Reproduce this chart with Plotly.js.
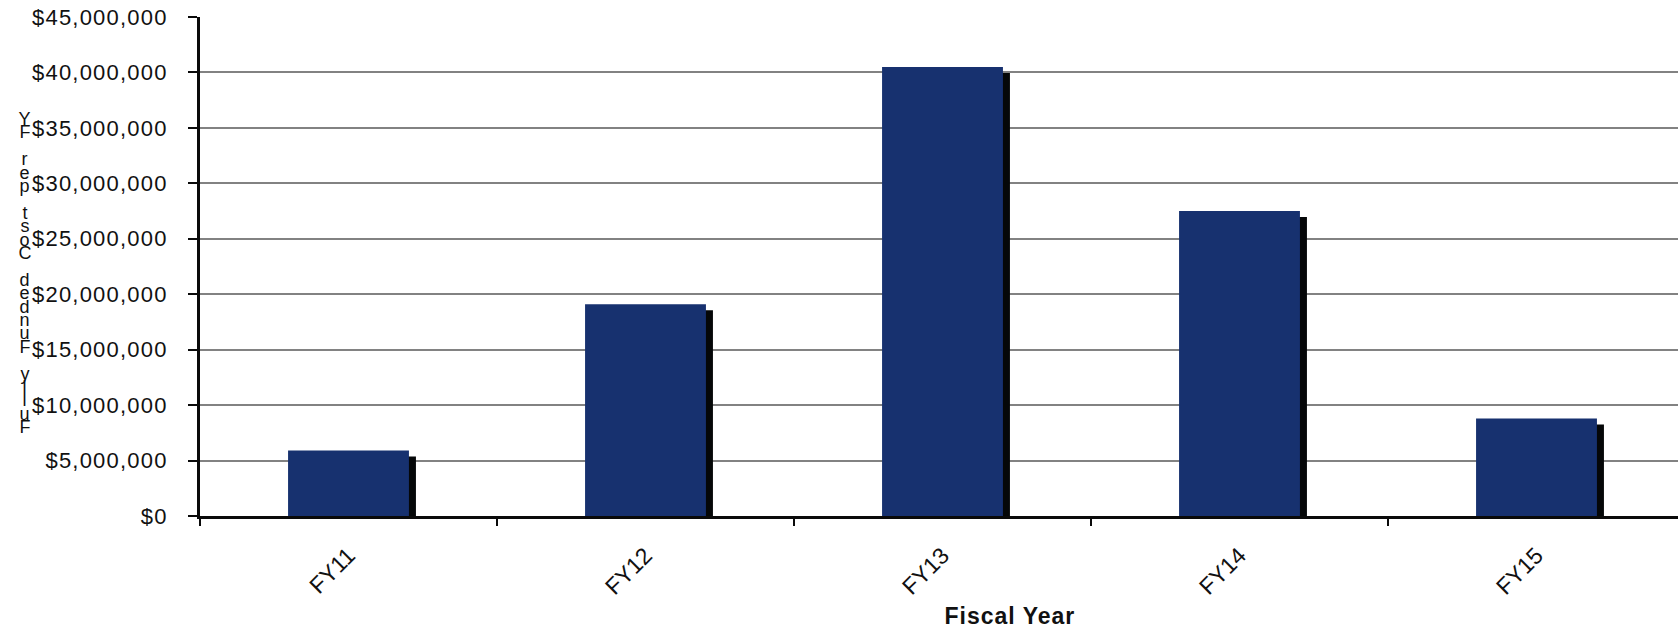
<!DOCTYPE html>
<html>
<head>
<meta charset="utf-8">
<script src="https://cdn.plot.ly/plotly-3.0.1.min.js"></script>
<style>
  html, body { margin: 0; padding: 0; background: #ffffff; overflow: hidden; }
  #chart { width: 1678px; height: 629px; }
  #chart .ytick text { letter-spacing: 1.2px; }
  #chart .annotation-text { letter-spacing: 1px; }
</style>
</head>
<body>
<div id="chart"></div>
<script>
// Fully funded cost by fiscal year
const fiscalYears = ["FY11", "FY12", "FY13", "FY14", "FY15"];
const fundedCost = [5900000, 19100000, 40500000, 27500000, 8800000];
const yTickValues = [0, 5000000, 10000000, 15000000, 20000000, 25000000, 30000000, 35000000, 40000000, 45000000];
const yTickText = yTickValues.map(v => "$" + v.toLocaleString("en-US"));
const yTitleText = "Fully Funded Cost per FY";
const xTitleText = "Fiscal Year";

const W = 1678, H = 629;
const M = { l: 200, r: 0, t: 17, b: 113 };
const plotH = H - M.t - M.b;
const plotW = W - M.l - M.r;
const catPx = 297;                                   // width of one category slot
const xMax = -0.5 + plotW / catPx;                   // last slot runs past the right edge

const barWidth = 0.407;
const shadowShift = 7 / catPx;                       // a few pixels right
const shadowDrop = 6 * 45000000 / plotH;             // a few pixels down

const shadow = {
  type: "bar",
  x: fiscalYears,
  y: fundedCost,
  base: fundedCost.map(() => -shadowDrop),
  width: barWidth,
  offset: -barWidth / 2 + shadowShift,
  marker: { color: "#050708", line: { width: 0 } },
  hoverinfo: "skip",
  showlegend: false
};

const bars = {
  type: "bar",
  x: fiscalYears,
  y: fundedCost,
  width: barWidth,
  offset: -barWidth / 2,
  marker: { color: "#17316f", line: { width: 0 } },
  showlegend: false
};

// The vertical title is set as a stack of upright letters, last letter on top;
// blanks keep their slot in the stack
const slots = yTitleText.split("").reverse();
const topY = 119, stepY = 13.4;
const annotations = [];
slots.forEach((ch, i) => {
  if (ch === " ") return;
  annotations.push({
    text: ch,
    xref: "paper", yref: "paper",
    x: (25 - M.l) / plotW,
    y: (M.t + plotH - (topY + i * stepY)) / plotH,
    xanchor: "center", yanchor: "middle",
    showarrow: false,
    font: { family: "Liberation Sans, Arial, sans-serif", size: 18, color: "#111111" }
  });
});

// x-axis title
annotations.push({
  text: "<b>" + xTitleText + "</b>",
  xref: "paper", yref: "paper",
  x: (1010 - M.l) / plotW,
  y: (M.t + plotH - 616) / plotH,
  xanchor: "center", yanchor: "middle",
  showarrow: false,
  font: { family: "Liberation Sans, Arial, sans-serif", size: 23, color: "#111111" }
});

const layout = {
  width: W, height: H,
  margin: M,
  paper_bgcolor: "#ffffff",
  plot_bgcolor: "#ffffff",
  barmode: "overlay",
  font: { family: "Liberation Sans, Arial, sans-serif", color: "#111111" },
  xaxis: {
    type: "category",
    range: [-0.5, xMax],
    showline: true, linecolor: "#0a0a0a", linewidth: 3,
    ticks: "outside", tickson: "boundaries", ticklen: 7, tickwidth: 2, tickcolor: "#0a0a0a",
    tickangle: -45,
    ticklabelstandoff: 14,
    tickfont: { size: 23, color: "#111111" },
    showgrid: false, zeroline: false
  },
  yaxis: {
    range: [0, 45000000],
    tickmode: "array",
    tickvals: yTickValues,
    ticktext: yTickText,
    showline: true, linecolor: "#0a0a0a", linewidth: 3,
    ticks: "outside", ticklen: 9, tickwidth: 2, tickcolor: "#0a0a0a",
    ticklabelstandoff: 16,
    tickfont: { size: 22, color: "#111111" },
    showgrid: true, gridcolor: "#828282", gridwidth: 2,
    zeroline: false
  },
  annotations: annotations
};

Plotly.newPlot("chart", [shadow, bars], layout, { displayModeBar: false, staticPlot: true });
</script>
</body>
</html>
